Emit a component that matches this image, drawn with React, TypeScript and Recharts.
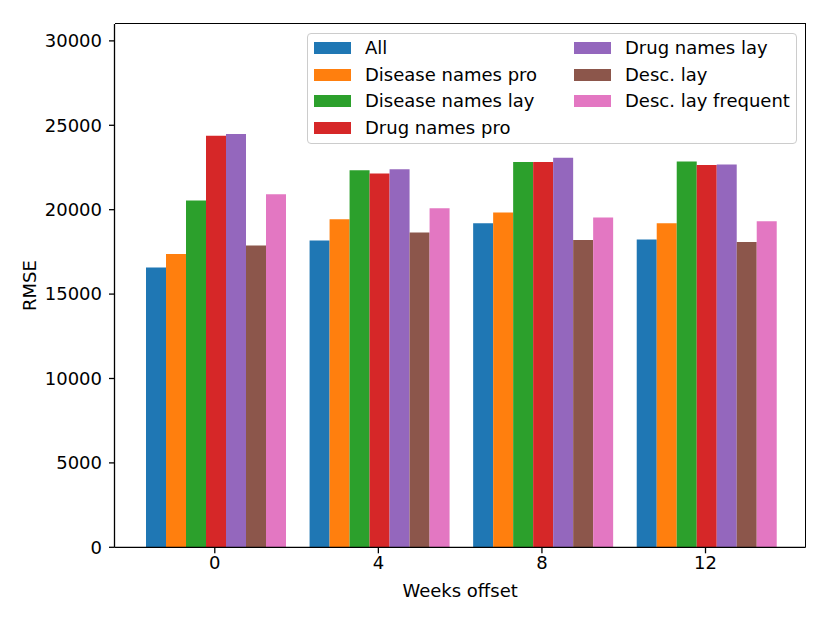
import React from 'react';
import { BarChart, Bar, XAxis, YAxis } from 'recharts';

const weeks = ['0', '4', '8', '12'];
const seriesNames = [
  'All',
  'Disease names pro',
  'Disease names lay',
  'Drug names pro',
  'Drug names lay',
  'Desc. lay',
  'Desc. lay frequent',
];
const seriesColors = ['#1f77b4', '#ff7f0e', '#2ca02c', '#d62728', '#9467bd', '#8c564b', '#e377c2'];

const allValues = [16580, 18180, 19200, 18240];
const diseaseProValues = [17370, 19440, 19840, 19190];
const diseaseLayValues = [20550, 22340, 22830, 22860];
const drugProValues = [24380, 22150, 22820, 22640];
const drugLayValues = [24490, 22390, 23070, 22680];
const descLayValues = [17880, 18650, 18200, 18080];
const descLayFrequentValues = [20920, 20080, 19540, 19320];

const yTicks = [0, 5000, 10000, 15000, 20000, 25000, 30000];

const seriesValues = [
  allValues,
  diseaseProValues,
  diseaseLayValues,
  drugProValues,
  drugLayValues,
  descLayValues,
  descLayFrequentValues,
];

const data = weeks.map((w, i) => {
  const row: Record<string, string | number> = { week: w };
  seriesNames.forEach((name, s) => {
    row[name] = seriesValues[s][i];
  });
  return row;
});

const FONT = '"DejaVu Sans", sans-serif';
const FS = 18;

const MARGIN = { top: 16, right: 24.3, left: 36.5, bottom: 45.7 };
const Y_AXIS_W = 70;
const X_AXIS_H = 30;
const CHART_W = 822;
const CHART_H = 615;

const LegendBox = () => {
  const col1 = seriesNames.slice(0, 4);
  const col2 = seriesNames.slice(4);
  const item = (name: string, idx: number, col: number, row: number) => (
    <div
      key={name}
      style={{
        position: 'absolute',
        left: col === 0 ? 6 : 266,
        top: 1 + row * 26.7,
        height: 26,
        display: 'flex',
        alignItems: 'center',
        whiteSpace: 'nowrap',
      }}
    >
      <div style={{ width: 37, height: 12, background: seriesColors[idx] }} />
      <div style={{ marginLeft: 14, fontSize: FS, fontFamily: FONT, color: '#000', lineHeight: '26px' }}>{name}</div>
    </div>
  );
  return (
    <div
      style={{
        position: 'absolute',
        left: 299,
        top: 25,
        width: 488,
        height: 109,
        border: '1px solid #cccccc',
        borderRadius: 4,
        background: 'rgba(255,255,255,0.8)',
      }}
    >
      {col1.map((n, r) => item(n, r, 0, r))}
      {col2.map((n, r) => item(n, r + 4, 1, r))}
    </div>
  );
};

export default function App() {
  const plotLeft = MARGIN.left + Y_AXIS_W;
  const plotTop = MARGIN.top;
  const plotW = CHART_W - MARGIN.left - MARGIN.right - Y_AXIS_W;
  const plotH = CHART_H - MARGIN.top - MARGIN.bottom - X_AXIS_H;
  return (
    <div style={{ position: 'relative', width: CHART_W, height: CHART_H }}>
      <BarChart
        width={CHART_W}
        height={CHART_H}
        data={data}
        margin={MARGIN}
        barCategoryGap={13}
        barGap={0}
      >
        <XAxis
          dataKey="week"
          padding={{ left: 18.5, right: 18.4 }}
          height={X_AXIS_H}
          axisLine={{ stroke: '#000', strokeWidth: 1.3 }}
          tickLine={{ stroke: '#000', strokeWidth: 1.3 }}
          tickSize={6}
          tickMargin={3}
          tick={{ fill: '#000', fontSize: FS, fontFamily: FONT }}
          label={{
            content: (props: any) => {
              const vb = props.viewBox || {};
              return (
                <text
                  x={vb.x + vb.width / 2}
                  y={vb.y + 50}
                  textAnchor="middle"
                  fontSize={FS}
                  fontFamily={FONT}
                  fill="#000"
                >
                  Weeks offset
                </text>
              );
            },
          }}
        />
        <YAxis
          domain={[0, 31000]}
          ticks={yTicks}
          interval={0}
          width={Y_AXIS_W}
          axisLine={{ stroke: '#000', strokeWidth: 1.3 }}
          tickLine={{ stroke: '#000', strokeWidth: 1.3 }}
          tickSize={5.5}
          tickMargin={7}
          tick={{ fill: '#000', fontSize: FS, fontFamily: FONT }}
          label={{
            content: (props: any) => {
              const vb = props.viewBox || {};
              const cx = 22;
              const cy = vb.y + vb.height / 2;
              return (
                <text
                  x={cx}
                  y={cy}
                  textAnchor="middle"
                  dominantBaseline="central"
                  transform={`rotate(-90, ${cx}, ${cy})`}
                  fontSize={FS}
                  fontFamily={FONT}
                  fill="#000"
                >
                  RMSE
                </text>
              );
            },
          }}
        />
        {seriesNames.map((name, i) => (
          <Bar key={name} dataKey={name} fill={seriesColors[i]} isAnimationActive={false} />
        ))}
      </BarChart>
      <div
        style={{
          position: 'absolute',
          left: plotLeft,
          top: plotTop,
          width: plotW,
          height: plotH,
          borderTop: '1.3px solid #000',
          borderRight: '1.3px solid #000',
          boxSizing: 'border-box',
          pointerEvents: 'none',
          marginTop: -0.65,
        }}
      />
      <LegendBox />
    </div>
  );
}
